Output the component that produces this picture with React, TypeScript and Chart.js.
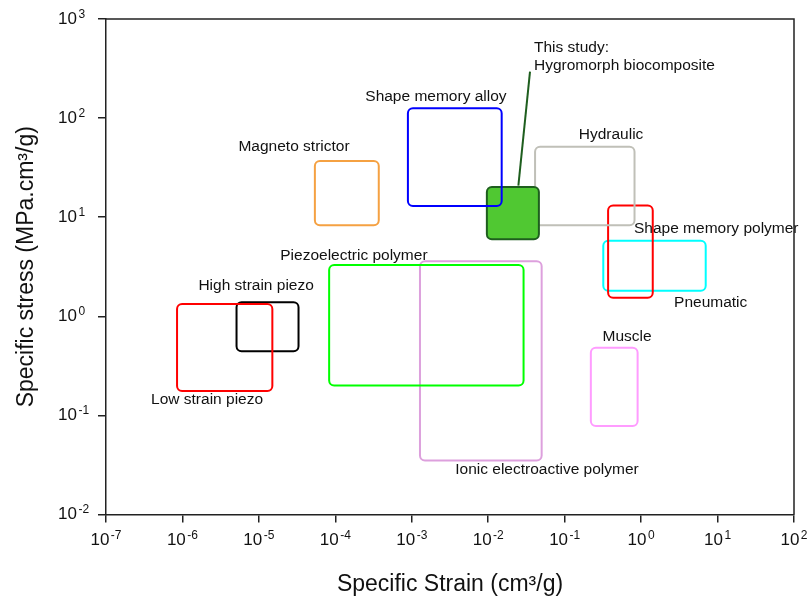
import React, { useEffect, useRef } from "react";
import { Chart, registerables } from "chart.js";

Chart.register(...registerables);

// ---------- data ----------
const boxNames = [
  "Low strain piezo",
  "High strain piezo",
  "Magneto strictor",
  "Shape memory alloy",
  "Piezoelectric polymer",
  "Ionic electroactive polymer",
  "Hygromorph biocomposite",
  "Hydraulic",
  "Shape memory polymer",
  "Pneumatic",
  "Muscle",
];
const boxXMin = [8.5e-7, 5.1e-6, 5.4e-5, 8.9e-4, 8.3e-5, 1.28e-3, 9.6e-3, 4.1e-2, 0.37, 0.32, 0.22];
const boxXMax = [1.5e-5, 3.3e-5, 3.7e-4, 1.5e-2, 2.9e-2, 5.0e-2, 4.6e-2, 0.82, 1.42, 7.0, 0.9];
const boxYMin = [0.176, 0.443, 8.3, 13, 0.2, 0.035, 6.0, 8.3, 1.54, 1.81, 0.078];
const boxYMax = [1.33, 1.39, 37, 126, 3.29, 3.59, 20.2, 51.5, 13.1, 5.8, 0.482];
const boxBorder = [
  "#ff0000", "#000000", "#f5a142", "#0000ff", "#00ff00", "#dda0dd",
  "#1e5e1e", "#c0c0b8", "#ff0000", "#00ffff", "#ff9cff",
];
const boxFill = ["", "", "", "", "", "", "#50c832", "", "", "", ""];

const leaderX = [0.0248, 0.0352];
const leaderY = [20.8, 294];

const labelTexts = [
  "Shape memory alloy",
  "Magneto strictor",
  "This study:",
  "Hygromorph biocomposite",
  "Hydraulic",
  "Shape memory polymer",
  "Pneumatic",
  "Piezoelectric polymer",
  "High strain piezo",
  "Low strain piezo",
  "Muscle",
  "Ionic electroactive polymer",
];
const labelX = [2.07e-3, 2.88e-5, 0.0397, 0.0397, 0.404, 0.807, 2.7, 1.75e-4, 9.2e-6, 2.1e-6, 0.655, 0.0587];
const labelY = [163, 51, 509, 336, 67.5, 7.6, 1.36, 4.06, 2.02, 0.143, 0.618, 0.0281];
const labelAlign = ["center", "center", "left", "left", "center", "left", "left", "center", "center", "center", "center", "center"];

const xTickExponents = [-7, -6, -5, -4, -3, -2, -1, 0, 1, 2];
const yTickExponents = [-2, -1, 0, 1, 2, 3];

const xTitle = "Specific Strain (cm³/g)";
const yTitle = "Specific stress (MPa.cm³/g)";

// ---------- helpers ----------
const FONT = "'Liberation Sans', Arial, sans-serif";
const NARROW = "'Liberation Sans Narrow', 'Liberation Sans', Arial, sans-serif";

const drawPow = (ctx: any, e: number, x: number, y: number, align: "center" | "left") => {
  const base = "10";
  const exp = String(e);
  ctx.font = `17px ${NARROW}`;
  const wb = ctx.measureText(base).width;
  ctx.font = `12px ${FONT}`;
  const we = ctx.measureText(exp).width;
  const gap = 1.5;
  const total = wb + gap + we;
  const start = align === "center" ? x - total / 2 : x;
  ctx.textAlign = "left";
  ctx.textBaseline = "middle";
  ctx.font = `17px ${NARROW}`;
  ctx.fillText(base, start, y);
  ctx.font = `12px ${FONT}`;
  ctx.fillText(exp, start + wb + gap, y - 4.5);
};

const tickLabelPlugin = {
  id: "powTicks",
  afterDraw(chart: any) {
    const { ctx, scales, chartArea } = chart;
    ctx.save();
    ctx.fillStyle = "#111";
    xTickExponents.forEach((e) => {
      drawPow(ctx, e, scales.x.getPixelForValue(Math.pow(10, e)), chartArea.bottom + 26, "center");
    });
    yTickExponents.forEach((e) => {
      drawPow(ctx, e, chartArea.left - 48, scales.y.getPixelForValue(Math.pow(10, e)), "left");
    });
    ctx.restore();
  },
};

const boxPlugin = {
  id: "roundBoxes",
  beforeDatasetDraw(chart: any, args: any) {
    const ds = chart.data.datasets[args.index];
    if (!ds.isBox) return;
    const pts = args.meta.data;
    const xs = pts.map((p: any) => p.x);
    const ys = pts.map((p: any) => p.y);
    const x1 = Math.min(...xs), x2 = Math.max(...xs);
    const y1 = Math.min(...ys), y2 = Math.max(...ys);
    const ctx = chart.ctx;
    ctx.save();
    ctx.beginPath();
    ctx.roundRect(x1, y1, x2 - x1, y2 - y1, 5);
    if (ds.boxFill) {
      ctx.fillStyle = ds.boxFill;
      ctx.fill();
    }
    ctx.lineWidth = ds.borderWidth;
    ctx.strokeStyle = ds.borderColor;
    ctx.stroke();
    ctx.restore();
    return false;
  },
};

const labelPlugin = {
  id: "textLabels",
  afterDatasetsDraw(chart: any) {
    const { ctx, scales } = chart;
    ctx.save();
    ctx.font = `15.5px ${FONT}`;
    ctx.fillStyle = "#111";
    ctx.textBaseline = "middle";
    labelTexts.forEach((t, i) => {
      ctx.textAlign = labelAlign[i];
      ctx.fillText(t, scales.x.getPixelForValue(labelX[i]), scales.y.getPixelForValue(labelY[i]));
    });
    ctx.restore();
  },
};

const framePlugin = {
  id: "frame",
  afterDraw(chart: any) {
    const { ctx, chartArea: a } = chart;
    ctx.save();
    ctx.strokeStyle = "#222";
    ctx.lineWidth = 1.5;
    ctx.beginPath();
    ctx.moveTo(a.left, a.top);
    ctx.lineTo(a.right, a.top);
    ctx.lineTo(a.right, a.bottom);
    ctx.stroke();
    ctx.restore();
  },
};

export default function App() {
  const ref = useRef<HTMLCanvasElement | null>(null);

  useEffect(() => {
    if (!ref.current) return;
    const datasets: any[] = boxNames.map((name, i) => ({
      label: name,
      isBox: true,
      boxFill: boxFill[i],
      data: [
        { x: boxXMin[i], y: boxYMin[i] },
        { x: boxXMax[i], y: boxYMax[i] },
      ],
      borderColor: boxBorder[i],
      borderWidth: 2,
      pointRadius: 0,
      showLine: false,
    }));
    datasets.push({
      label: "leader",
      data: leaderX.map((x, i) => ({ x, y: leaderY[i] })),
      borderColor: "#1e5e1e",
      borderWidth: 2,
      pointRadius: 0,
      showLine: true,
    });

    const axisCommon = {
      type: "logarithmic" as const,
      grid: {
        display: true,
        drawOnChartArea: false,
        drawTicks: true,
        tickLength: 8,
        color: "#222",
        lineWidth: 1.5,
      },
      border: { display: true, color: "#222", width: 1.5 },
    };

    const chart = new Chart(ref.current, {
      type: "scatter",
      data: { datasets },
      plugins: [boxPlugin, labelPlugin, framePlugin, tickLabelPlugin],
      options: {
        animation: false,
        responsive: false,
        layout: { padding: { left: 0, top: 19, right: 15, bottom: 0 } },
        plugins: { legend: { display: false }, tooltip: { enabled: false } },
        scales: {
          x: {
            ...axisCommon,
            min: 1e-7,
            max: 1e2,
            afterBuildTicks: (s: any) => {
              s.ticks = xTickExponents.map((e) => ({ value: Math.pow(10, e) }));
            },
            afterFit: (s: any) => {
              s.height = 83.5;
            },
            ticks: { display: false, autoSkip: false },
            title: {
              display: true,
              text: xTitle,
              color: "#111",
              font: { family: FONT, size: 23 },
              padding: { top: 0, bottom: 0 },
            },
          },
          y: {
            ...axisCommon,
            min: 1e-2,
            max: 1e3,
            afterBuildTicks: (s: any) => {
              s.ticks = yTickExponents.map((e) => ({ value: Math.pow(10, e) }));
            },
            afterFit: (s: any) => {
              s.width = 106;
            },
            ticks: { display: false, autoSkip: false },
            title: {
              display: true,
              text: yTitle,
              color: "#111",
              font: { family: FONT, size: 23 },
              padding: { top: 13, bottom: 0 },
            },
          },
        },
      } as any,
    });
    return () => chart.destroy();
  }, []);

  return (
    <div style={{ position: "fixed", left: 0, top: 0, width: 809, height: 598, background: "#fff" }}>
      <canvas ref={ref} width={809} height={598} style={{ display: "block" }} />
    </div>
  );
}
